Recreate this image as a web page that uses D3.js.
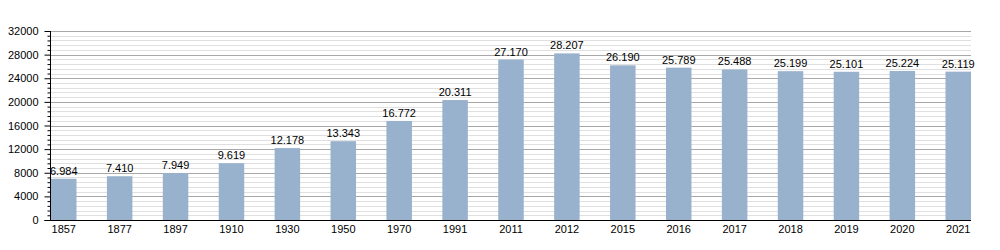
<!DOCTYPE html>
<html><head><meta charset="utf-8">
<script src="https://cdn.jsdelivr.net/npm/d3@7"></script>
<style>body{margin:0;background:#fff}svg text{font-family:"Liberation Sans",Arial,sans-serif;font-size:11px;fill:#000}</style>
</head><body><svg id="c" width="1000" height="250"></svg>
<script>
const years = ["1857","1877","1897","1910","1930","1950","1970","1991","2011","2012","2015","2016","2017","2018","2019","2020","2021"];
const population = [6984,7410,7949,9619,12178,13343,16772,20311,27170,28207,26190,25789,25488,25199,25101,25224,25119];
const majorTicks = [0,4000,8000,12000,16000,20000,24000,28000,32000];

const svg = d3.select("#c");
const pLeft = 50.5, pRight = 971, pTop = 31, pBottom = 220;
const y = d3.scaleLinear().domain([0,32000]).range([pBottom, pTop]);
const x = d3.scaleBand().domain(years).range([51, pRight]).paddingInner(0.544).paddingOuter(0).align(0);
const fmt = v => d3.format(",")(v).replace(/,/g,".");

const minor = d3.range(0, 32001, 800).filter(v => v % 4000 !== 0);
svg.append("g").selectAll("line").data(minor).join("line")
  .attr("x1", pLeft).attr("x2", pRight).attr("y1", d=>Math.round(y(d))+0.5).attr("y2", d=>Math.round(y(d))+0.5)
  .attr("stroke", "#e0e0e0").attr("stroke-width", 1);
svg.append("g").selectAll("line").data(majorTicks.slice(1)).join("line")
  .attr("x1", pLeft).attr("x2", pRight).attr("y1", d=>Math.round(y(d))+0.5).attr("y2", d=>Math.round(y(d))+0.5)
  .attr("stroke", "#a8a8a8").attr("stroke-width", 1);

svg.append("g").selectAll("rect").data(years).join("rect")
  .attr("x", d=>x(d)).attr("width", x.bandwidth())
  .attr("y", (d,i)=>y(population[i])).attr("height", (d,i)=>pBottom - y(population[i]))
  .attr("fill", "#98b1cc");

svg.append("g").selectAll("text").data(years).join("text")
  .attr("x", d=>x(d)+x.bandwidth()/2).attr("y", (d,i)=>y(population[i])-4)
  .attr("text-anchor","middle").text((d,i)=>fmt(population[i]));

// y axis
const ya = svg.append("g").attr("transform", `translate(${pLeft},0)`)
  .call(d3.axisLeft(y).tickValues(majorTicks).tickSize(6).tickPadding(6).tickFormat(d3.format("d")));
ya.select(".domain").remove();
ya.selectAll(".tick line").attr("stroke","#000");
ya.selectAll("text").style("font-family","Liberation Sans,Arial,sans-serif").style("font-size","11px");
svg.append("g").attr("transform", `translate(${pLeft},0)`)
  .call(d3.axisLeft(y).tickValues(minor).tickSize(3).tickFormat(""))
  .call(g=>g.select(".domain").remove()).selectAll("line").attr("stroke","#000");
svg.append("line").attr("x1",pLeft).attr("x2",pLeft).attr("y1",pTop).attr("y2",pBottom).attr("stroke","#000");

// x axis
const xa = svg.append("g").attr("transform", `translate(0,${pBottom+0.5})`)
  .call(d3.axisBottom(x).tickSize(0).tickPadding(5));
xa.select(".domain").remove();
xa.selectAll("text").style("font-family","Liberation Sans,Arial,sans-serif").style("font-size","11px");
svg.append("line").attr("x1",pLeft-6).attr("x2",pRight).attr("y1",pBottom+0.5).attr("y2",pBottom+0.5).attr("stroke","#000");
</script></body></html>
